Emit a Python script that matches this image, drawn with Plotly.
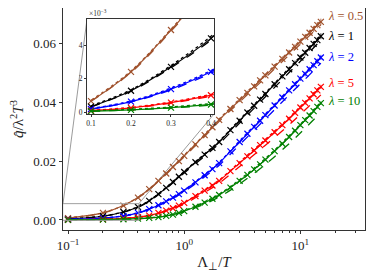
import math
import plotly.graph_objects as go

# ---------------- data ----------------
lambda_labels = ["<i>λ</i> = 0.5", "<i>λ</i> = 1", "<i>λ</i> = 2", "<i>λ</i> = 5", "<i>λ</i> = 10"]
colors = ["#a0522d", "#000000", "#0000ff", "#ff0000", "#008000"]

# sampled points (markers + solid line)
x_pts = [0.1, 0.2, 0.3, 0.4, 0.5, 0.6, 0.7, 0.8, 0.9, 1.0, 1.25, 1.5, 1.75, 2.0,
         2.5, 3.0, 3.5, 4.0, 4.5, 5.0, 6, 7, 8, 9, 10, 11, 12, 13, 14, 15]
q_l05 = [0.00065, 0.0024, 0.0049, 0.0076, 0.0105, 0.0133, 0.0158, 0.0180, 0.0200, 0.0218,
         0.0257, 0.0288, 0.0315, 0.0340, 0.0377, 0.0407, 0.0432, 0.0454, 0.0474, 0.0491,
         0.0521, 0.0547, 0.0569, 0.0588, 0.0606, 0.0622, 0.0636, 0.0649, 0.0662, 0.0673]
q_l1 = [0.00032, 0.00127, 0.0027, 0.0044, 0.0065, 0.0088, 0.0109, 0.0129, 0.0147, 0.0163,
        0.0196, 0.0222, 0.0245, 0.0265, 0.0305, 0.0337, 0.0365, 0.0388, 0.0409, 0.0428,
        0.0461, 0.0488, 0.0512, 0.0533, 0.0552, 0.0568, 0.0584, 0.0598, 0.0611, 0.0624]
q_l2 = [0.00018, 0.00062, 0.00137, 0.0024, 0.0037, 0.0050, 0.0063, 0.0076, 0.0088, 0.0100,
        0.0128, 0.0152, 0.0173, 0.0193, 0.0233, 0.0265, 0.0293, 0.0316, 0.0337, 0.0356,
        0.0389, 0.0416, 0.0440, 0.0461, 0.0480, 0.0496, 0.0512, 0.0526, 0.0539, 0.0552]
q_l5 = [0.00008, 0.00025, 0.00056, 0.0010, 0.0015, 0.0024, 0.0032, 0.0040, 0.0049, 0.0058,
        0.0081, 0.0100, 0.0117, 0.0133, 0.0166, 0.0193, 0.0216, 0.0236, 0.0254, 0.0270,
        0.0298, 0.0322, 0.0344, 0.0364, 0.0382, 0.0398, 0.0413, 0.0427, 0.0440, 0.0452]
q_l10 = [0.00005, 0.00013, 0.00026, 0.00045, 0.0007, 0.0010, 0.0014, 0.0018, 0.0024, 0.0030,
         0.0045, 0.0059, 0.0072, 0.0085, 0.0110, 0.0133, 0.0153, 0.0172, 0.0189, 0.0205,
         0.0234, 0.0259, 0.0282, 0.0303, 0.0322, 0.0339, 0.0355, 0.0370, 0.0384, 0.0397]

# approximation curves (dotted and dashed)
x_curve = [0.1, 0.2, 0.3, 0.4, 0.5, 0.7, 1.0, 1.5, 2.0, 3.0, 5.0, 8.0, 11, 15]
dot_l05 = [0.0007, 0.00245, 0.00495, 0.00765, 0.01055, 0.0159, 0.0220, 0.0291, 0.0343, 0.0411, 0.0495, 0.0573, 0.0626, 0.0677]
dot_l1 = [0.00037, 0.00133, 0.00278, 0.00452, 0.0066, 0.0111, 0.0165, 0.0225, 0.0268, 0.0341, 0.0432, 0.0516, 0.0572, 0.0628]
dot_l2 = [0.00021, 0.00066, 0.00143, 0.00248, 0.0038, 0.0065, 0.0102, 0.0155, 0.0196, 0.0269, 0.0360, 0.0444, 0.0500, 0.0556]
dot_l5 = [0.0001, 0.00028, 0.0006, 0.00105, 0.00155, 0.0033, 0.0060, 0.0103, 0.0136, 0.0197, 0.0274, 0.0348, 0.0402, 0.0456]
dot_l10 = [0.00007, 0.00016, 0.0003, 0.0005, 0.00075, 0.0015, 0.0032, 0.0062, 0.0088, 0.0137, 0.0209, 0.0286, 0.0343, 0.0401]
dash_l05 = [0.00064, 0.00236, 0.00483, 0.00749, 0.01034, 0.01556, 0.02147, 0.02837, 0.03349, 0.04009, 0.04836, 0.05605, 0.06127, 0.06629]
dash_l1 = [0.00031, 0.00124, 0.00264, 0.0043, 0.00636, 0.01066, 0.01594, 0.02171, 0.02592, 0.03296, 0.04186, 0.05007, 0.05555, 0.06103]
dash_l2 = [0.000174, 0.000598, 0.00132, 0.00232, 0.00357, 0.00608, 0.00965, 0.01467, 0.01862, 0.02557, 0.03435, 0.04246, 0.04786, 0.05327]
dash_l5 = [0.000075, 0.000235, 0.000526, 0.00094, 0.00141, 0.00301, 0.00545, 0.0094, 0.0125, 0.01814, 0.02538, 0.03234, 0.03741, 0.04249]
dash_l10 = [0.000046, 0.00012, 0.00024, 0.00041, 0.00064, 0.00129, 0.00276, 0.00543, 0.00782, 0.01224, 0.01886, 0.02594, 0.03119, 0.03652]

series_pts = [q_l05, q_l1, q_l2, q_l5, q_l10]
series_dot = [dot_l05, dot_l1, dot_l2, dot_l5, dot_l10]
series_dash = [dash_l05, dash_l1, dash_l2, dash_l5, dash_l10]

main_y_ticks = [0.0, 0.02, 0.04, 0.06]
main_y_ticktext = ["0.00", "0.02", "0.04", "0.06"]
main_x_ticks = [0.1, 1, 10]
main_x_ticktext = ["10<sup>−1</sup>", "10<sup>0</sup>", "10<sup>1</sup>"]
inset_x_ticks = [0.1, 0.2, 0.3, 0.4]
inset_x_ticktext = ["0.1", "0.2", "0.3", "0.4"]
inset_y_ticks = [0.0, 0.002, 0.004]
inset_y_ticktext = ["0", "2", "4"]

# ---------------- layout geometry ----------------
main_xrange_log = [-1.043, 1.556]
main_yrange = [-0.0034, 0.072]
inset_xrange = [0.09, 0.4075]
inset_yrange = [-0.00012, 0.00555]
inset_xdomain = [0.0795, 0.5]
inset_ydomain = [0.5225, 0.95]

SERIF = "Liberation Serif"

fig = go.Figure()

for i in range(5):
    c = colors[i]
    for axx, axy, show_err in (("x", "y", True), ("x2", "y2", False)):
        fig.add_trace(go.Scatter(
            x=x_curve, y=series_dash[i], mode="lines", xaxis=axx, yaxis=axy,
            line=dict(color=c, width=1.3, dash="dash", shape="spline"),
            showlegend=False, hoverinfo="skip"))
        fig.add_trace(go.Scatter(
            x=x_curve, y=series_dot[i], mode="lines", xaxis=axx, yaxis=axy,
            line=dict(color=c, width=1.3, dash="dot", shape="spline"),
            showlegend=False, hoverinfo="skip"))
        fig.add_trace(go.Scatter(
            x=x_pts, y=series_pts[i], mode="lines+markers", xaxis=axx, yaxis=axy,
            line=dict(color=c, width=1.2, shape="spline"),
            marker=dict(symbol="x-thin", size=6, line=dict(color=c, width=1.2)),
            error_y=dict(type="percent", value=1.6, thickness=0.8, width=0,
                         color=c, visible=show_err),
            showlegend=False))

# zoom rectangle in main axes
fig.add_trace(go.Scatter(
    x=[inset_xrange[0], inset_xrange[1], inset_xrange[1], inset_xrange[0], inset_xrange[0]],
    y=[inset_yrange[0], inset_yrange[0], inset_yrange[1], inset_yrange[1], inset_yrange[0]],
    mode="lines", line=dict(color="#a0a0a0", width=1), xaxis="x", yaxis="y",
    showlegend=False, hoverinfo="skip"))


def fx(v):
    return (math.log10(v) - main_xrange_log[0]) / (main_xrange_log[1] - main_xrange_log[0])


def fy(v):
    return (v - main_yrange[0]) / (main_yrange[1] - main_yrange[0])


shapes = [
    dict(type="line", xref="paper", yref="paper",
         x0=max(fx(inset_xrange[0]), 0), y0=fy(inset_yrange[1]),
         x1=inset_xdomain[0], y1=inset_ydomain[1],
         line=dict(color="#909090", width=0.9), layer="below"),
    dict(type="line", xref="paper", yref="paper",
         x0=fx(inset_xrange[1]), y0=fy(inset_yrange[1]),
         x1=inset_xdomain[1], y1=inset_ydomain[0],
         line=dict(color="#909090", width=0.9), layer="below"),
]

label_y = [0.964, 0.874, 0.779, 0.662, 0.581]
annotations = []
for i in range(5):
    annotations.append(dict(
        xref="paper", yref="paper", x=0.872, y=label_y[i], xanchor="left", yanchor="middle",
        text=lambda_labels[i], showarrow=False,
        font=dict(family=SERIF, size=12.5, color=colors[i])))
annotations.append(dict(
    xref="paper", yref="paper", x=inset_xdomain[0], y=inset_ydomain[1], xanchor="left",
    yanchor="bottom", text="×10<sup>−3</sup>", showarrow=False, yshift=-1,
    font=dict(family=SERIF, size=7.5, color="#333")))

minor_x = [0.2, 0.3, 0.4, 0.5, 0.6, 0.7, 0.8, 0.9, 2, 3, 4, 5, 6, 7, 8, 9, 20, 30]

# the page body adds an 8px offset, so the figure is sized to compensate
fig.update_layout(
    width=366, height=272,
    margin=dict(l=55, r=9, t=0, b=50, autoexpand=False),
    paper_bgcolor="white", plot_bgcolor="white",
    font=dict(family=SERIF, color="#222"),
    shapes=shapes, annotations=annotations,
    xaxis=dict(type="log", range=main_xrange_log, tickvals=main_x_ticks,
               ticktext=main_x_ticktext, ticks="outside", ticklen=3.5, tickwidth=0.8,
               tickcolor="#333", showline=True, linecolor="#333", linewidth=0.9,
               mirror=True, showgrid=False, zeroline=False, automargin=False,
               tickfont=dict(family=SERIF, size=13),
               minor=dict(tickvals=minor_x, ticks="outside", ticklen=2, tickwidth=0.6,
                          tickcolor="#333", showgrid=False),
               title=dict(text="Λ<sub>⊥</sub>/<i>T</i>", font=dict(family=SERIF, size=15),
                          standoff=4)),
    yaxis=dict(range=main_yrange, tickvals=main_y_ticks, ticktext=main_y_ticktext,
               ticks="outside", ticklen=3.5, tickwidth=0.8, tickcolor="#333",
               showline=True, linecolor="#333", linewidth=0.9, mirror=True,
               showgrid=False, zeroline=False, automargin=False,
               tickfont=dict(family=SERIF, size=13),
               title=dict(text="<i>q̂</i>/λ<sup>2</sup><i>T</i><sup>3</sup>",
                          font=dict(family=SERIF, size=15), standoff=6)),
    xaxis2=dict(domain=inset_xdomain, anchor="y2", range=inset_xrange,
                tickvals=inset_x_ticks, ticktext=inset_x_ticktext, ticks="outside",
                ticklen=2, tickwidth=0.6, tickcolor="#333", showline=True,
                linecolor="#333", linewidth=0.9, mirror=True, showgrid=False,
                zeroline=False, automargin=False, tickfont=dict(family=SERIF, size=7.5)),
    yaxis2=dict(domain=inset_ydomain, anchor="x2", range=inset_yrange,
                tickvals=inset_y_ticks, ticktext=inset_y_ticktext, ticks="outside",
                ticklen=2, tickwidth=0.6, tickcolor="#333", showline=True,
                linecolor="#333", linewidth=0.9, mirror=True, showgrid=False,
                zeroline=False, automargin=False, tickfont=dict(family=SERIF, size=7.5)),
)

fig.write_html("out.html")
